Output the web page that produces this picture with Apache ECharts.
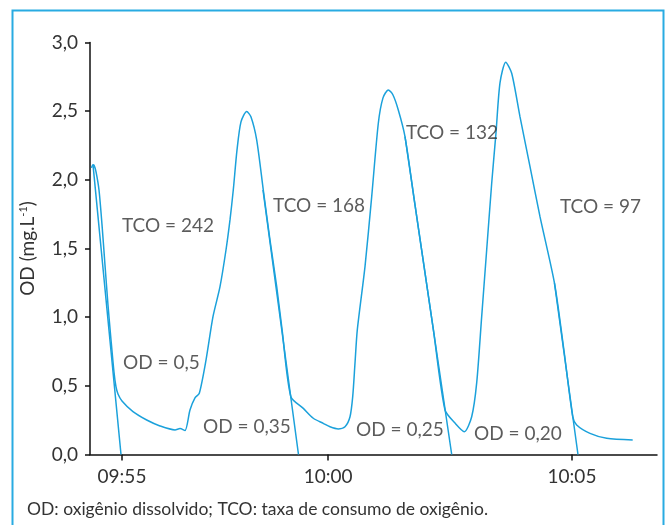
<!DOCTYPE html>
<html>
<head>
<meta charset="utf-8">
<script src="https://cdn.jsdelivr.net/npm/echarts@6/dist/echarts.min.js"></script>
<style>
html,body{margin:0;padding:0;background:#fff;}
#chart{width:670px;height:525px;}
</style>
</head>
<body>
<div id="chart"></div>
<script>
// Time axis in minutes after 09:55 (as drawn), OD in mg/L
const tickTimes = [0, 4.58, 10.0];
const tickLabels = ['09:55', '10:00', '10:05'];

const curveTime = [-0.678,-0.645,-0.62,-0.578,-0.511,-0.444,-0.378,-0.311,-0.244,-0.178,-0.133,-0.089,0,
  0.244,0.549,0.844,1.178,1.289,1.4,1.511,1.622,1.718,1.867,2.022,2.178,2.311,2.4,2.473,2.556,2.644,2.771,
  2.867,2.993,3.14,3.289,3.438,3.558,3.753,4.029,4.251,4.473,4.622,4.807,4.956,5.067,5.127,5.178,5.229,
  5.4,5.549,5.696,5.8,5.918,6.022,6.14,6.289,6.504,6.713,6.92,7.178,7.4,7.607,7.771,7.882,7.993,8.104,8.216,
  8.311,8.4,8.527,8.66,8.844,9.067,9.289,9.611,9.82,10.016,10.104,10.4,10.771,11.349];
const curveOD = [2.087,2.11,2.105,2.06,1.926,1.672,1.380,1.089,0.834,0.601,0.492,0.441,0.390,
  0.312,0.251,0.208,0.179,0.189,0.175,0.324,0.412,0.446,0.688,1.004,1.222,1.489,1.708,1.926,2.218,2.422,2.497,
  2.458,2.291,1.926,1.562,1.222,0.907,0.421,0.336,0.264,0.227,0.202,0.186,0.202,0.275,0.421,0.666,0.907,
  1.368,1.878,2.412,2.597,2.655,2.618,2.509,2.315,1.832,1.368,0.907,0.324,0.229,0.166,0.275,0.521,1.004,1.489,1.977,
  2.342,2.706,2.857,2.776,2.460,2.096,1.732,1.247,0.761,0.275,0.215,0.154,0.118,0.106];

// Consumption-rate tangent lines (start -> end on the time axis)
const tangentStartTime = [-0.644, 3.133, 6.289, 9.611];
const tangentStartOD = [2.109, 1.926, 2.315, 1.247];
const tangentEndTime = [-0.022, 3.922, 7.327, 10.133];
const tangentEndOD = [0, 0, 0, 0];

const noteText = ['TCO = 242','OD = 0,5','TCO = 168','OD = 0,35','TCO = 132','OD = 0,25','TCO = 97','OD = 0,20'];
const noteTime = [0, 0.022, 3.356, 1.8, 6.311, 5.2, 9.733, 7.822];
const noteOD = [1.664, 0.666, 1.810, 0.200, 2.342, 0.178, 1.803, 0.149];

const FONT = 'Lato';
const BLUE = '#1ba1db';

const curveData = curveTime.map((t, i) => [t, curveOD[i]]);
const tangentData = [];
tangentStartTime.forEach((t, i) => {
  tangentData.push([t, tangentStartOD[i]]);
  tangentData.push([tangentEndTime[i], tangentEndOD[i]]);
  tangentData.push(null);
});
const noteData = noteText.map((s, i) => ({ value: [noteTime[i], noteOD[i]], name: s }));

const chart = echarts.init(document.getElementById('chart'), null, { renderer: 'canvas' });
chart.setOption({
  animation: false,
  grid: { left: 90, right: 13, top: 42.5, bottom: 70.5 },
  graphic: [
    { type: 'rect', shape: { x: 12.5, y: 10.5, width: 651, height: 540 },
      style: { fill: 'none', stroke: '#29abe2', lineWidth: 2 }, silent: true },
    { type: 'text', left: 27, top: 500,
      style: { text: 'OD: oxigênio dissolvido; TCO: taxa de consumo de oxigênio.',
        font: '17.5px ' + FONT, fill: '#333' } }
  ],
  xAxis: {
    type: 'value', min: -0.711, max: 11.889,
    splitLine: { show: false },
    axisLine: { show: true, onZero: false, lineStyle: { color: '#111', width: 1.5 } },
    axisTick: { show: true, length: 6, customValues: tickTimes, lineStyle: { color: '#111', width: 1.5 } },
    axisLabel: { customValues: tickTimes, margin: 13, color: '#333', fontFamily: FONT, fontSize: 19,
      formatter: v => { const i = tickTimes.findIndex(x => Math.abs(x - v) < 1e-6); return i >= 0 ? tickLabels[i] : ''; } }
  },
  yAxis: {
    type: 'value', min: 0, max: 3, interval: 0.5,
    name: 'OD (mg.L{sup|-1})', nameLocation: 'middle', nameGap: 53,
    nameTextStyle: { color: '#333', fontFamily: FONT, fontSize: 19,
      rich: { sup: { fontSize: 11, fontFamily: FONT, color: '#333', verticalAlign: 'top', padding: [0,0,8,0] } } },
    splitLine: { show: false },
    axisLine: { show: true, onZero: false, lineStyle: { color: '#111', width: 1.5 } },
    axisTick: { show: true, length: 5, lineStyle: { color: '#111', width: 1.5 } },
    axisLabel: { margin: 12, color: '#333', fontFamily: FONT, fontSize: 19,
      formatter: v => v.toFixed(1).replace('.', ',') }
  },
  series: [
    { type: 'line', data: curveData, showSymbol: false, smooth: 0.25,
      lineStyle: { color: BLUE, width: 1.5 }, z: 3 },
    { type: 'line', data: tangentData, showSymbol: false, connectNulls: false,
      lineStyle: { color: BLUE, width: 1.5 }, z: 3 },
    { type: 'scatter', data: noteData, symbolSize: 0, z: 4,
      label: { show: true, position: 'right', distance: 0, formatter: p => p.name,
        color: '#333', fontFamily: FONT, fontSize: 19 } }
  ]
});
</script>
</body>
</html>
